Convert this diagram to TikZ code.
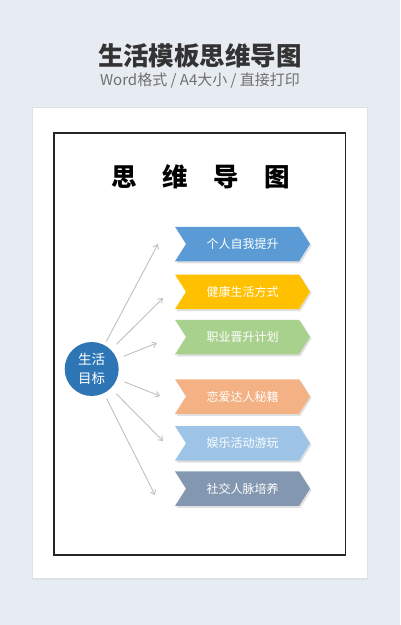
\documentclass[tikz,border=0pt]{standalone}
\usepackage{fontspec}
\setmainfont{Noto Sans CJK SC}
\usetikzlibrary{arrows.meta}
\definecolor{bgc}{HTML}{E7EBF2}
\definecolor{headc}{HTML}{333333}
\definecolor{subc}{HTML}{707070}
\definecolor{circc}{HTML}{2E75B6}
\definecolor{c1}{HTML}{5B9BD5}
\definecolor{c2}{HTML}{FFC000}
\definecolor{c3}{HTML}{A9D18E}
\definecolor{c4}{HTML}{F4B183}
\definecolor{c5}{HTML}{9DC3E6}
\definecolor{c6}{HTML}{8497B0}
\definecolor{linec}{HTML}{C0C0C0}
\tikzset{
  chevtext/.style={text=white, font=\fontsize{12}{14}\selectfont, inner sep=0pt},
  conn/.style={draw=linec, line width=0.9pt, -{Straight Barb[length=4pt,width=6pt]}},
}
\newcommand\chevbox[4]{%
  \fill[black, opacity=0.12] (176.5,#2-16.25) -- (300.5,#2-16.25) -- (311.5,#2+1.5) -- (300.5,#2+19.25) -- (176.5,#2+19.25) -- (187.5,#2+1.5) -- cycle;
  \fill[#3] (175,#2-17.25) -- (299,#2-17.25) -- (310,#2) -- (299,#2+17.25) -- (175,#2+17.25) -- (186,#2) -- cycle;
  \node[chevtext] (#1) at (242.5,#2) {#4};
}
\begin{document}
\begin{tikzpicture}[x=1pt,y=-1pt]
\useasboundingbox (0,0) rectangle (400,625);
\fill[bgc] (0,0) rectangle (400,625);
% header
\node[text=headc, font=\fontsize{25.5}{28}\selectfont\bfseries] (head) at (200,56) {生活模板思维导图};
\node[text=subc, font=\fontsize{15}{17}\selectfont] (sub) at (200,81) {Word格式 / A4大小 / 直接打印};
% paper
\fill[black, opacity=0.04] (32,107) rectangle (368,580);
\fill[white] (33,108) rectangle (367,578);
\draw[line width=1.2pt, draw=black!85] (54,133) rectangle (345.5,555);
% title
\node[font=\fontsize{25.5}{28}\selectfont\bfseries] (title) at (201,177) {思\hspace{1em}维\hspace{1em}导\hspace{1em}图};
% chevrons
\chevbox{k1}{244}{c1}{个人自我提升}
\chevbox{k2}{291.8}{c2}{健康生活方式}
\chevbox{k3}{337}{c3}{职业晋升计划}
\chevbox{k4}{396.5}{c4}{恋爱达人秘籍}
\chevbox{k5}{443.3}{c5}{娱乐活动游玩}
\chevbox{k6}{488.7}{c6}{社交人脉培养}
% center circle
\node[circle, fill=circc, minimum size=54pt, inner sep=0pt, text=white, align=center,
      font=\fontsize{13.5}{18.4}\selectfont] (c) at (91.7,369) {生活\\目标};
% connector ends
\coordinate (e1) at (158,244);
\coordinate (e2) at (163,298);
\coordinate (e3) at (157,343);
\coordinate (e4) at (160,396);
\coordinate (e5) at (163,441);
\coordinate (e6) at (155,495);
\draw[conn, shorten <=4pt] (c) -- (e1);
\draw[conn, shorten <=8pt] (c) -- (e2);
\draw[conn, shorten <=7pt] (c) -- (e3);
\draw[conn, shorten <=8pt] (c) -- (e4);
\draw[conn, shorten <=8pt] (c) -- (e5);
\draw[conn, shorten <=6pt] (c) -- (e6);
\end{tikzpicture}
\end{document}
